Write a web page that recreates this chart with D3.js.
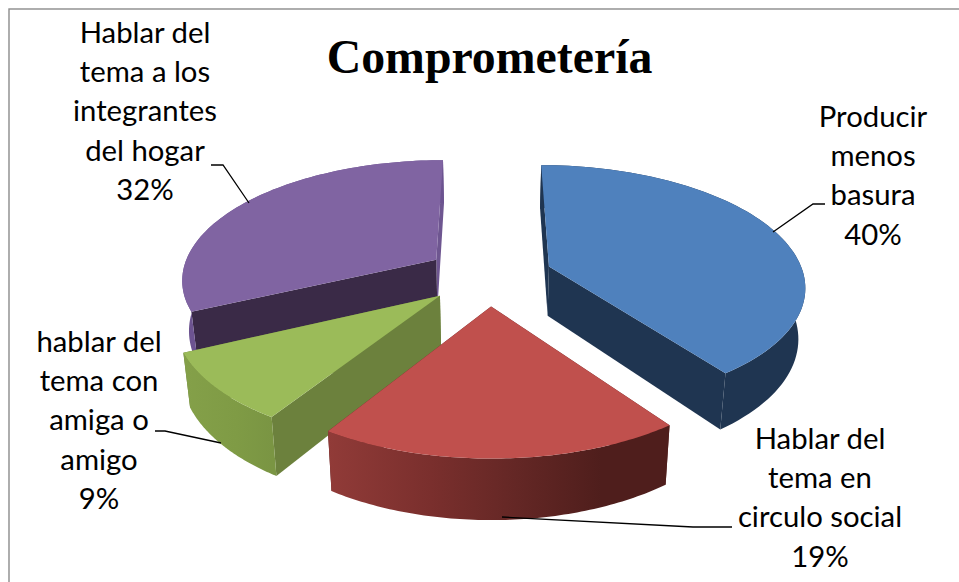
<!DOCTYPE html>
<html lang="es">
<head>
<meta charset="utf-8">
<script src="https://cdnjs.cloudflare.com/ajax/libs/d3/7.8.5/d3.min.js"></script>
<style>
html,body{margin:0;padding:0;background:#fff;overflow:hidden}
svg{display:block}
</style>
</head>
<body>
<svg id="chart" width="959" height="582"></svg>
<script>
// ---- data ----
const chartTitle = "Comprometería";
const categories = ["Producir menos basura", "Hablar del tema en circulo social", "hablar del tema con amiga o amigo", "Hablar del tema a los integrantes del hogar"];
const values = [40, 19, 9, 32];
const labelLines = [
  ["Producir", "menos", "basura", "40%"],
  ["Hablar del", "tema en", "circulo social", "19%"],
  ["hablar del", "tema con", "amiga o", "amigo", "9%"],
  ["Hablar del", "tema a los", "integrantes", "del hogar", "32%"]
];

// ---- styles ----
const topColors = ["#4f81bd", "#c0504d", "#9bbb59", "#8064a2"];
const startWall = ["#1f3551", "#5a2322", "#6c813d", "#3a2a47"];
const endWall   = ["#1f3551", "#5a2322", "#6c813d", "#6e5690"];
const outerStops = [
  [["0","#1f3551"],["0.75","#1f3551"],["1","#1f3551"]],
  [["0","#913b38"],["0.3","#7a2f2d"],["0.55","#642725"],["0.8","#4f1e1c"],["1","#4f1e1c"]],
  [["0","#84a049"],["0.6","#7f9b45"],["1","#7a9543"]],
  [["0","#6c5390"],["1","#6c5390"]]
];
const drawOrder = [3, 0, 2, 1];

// ---- layout ----
const W = 959, H = 582;
const cx = 489, cy = 275.5, rx = 255, ry = 119, persp = 0.15, explode = 0.25, depth = 50, converge = 0.022;
const labelX = [873, 820, 99, 145];
const firstBaseline = [127, 449, 352, 43];
const lineStep = 39.2;
const leaders = [
  [[825,204],[813,204],[773,232]],
  [[732,527],[693,527],[502,517]],
  [[155,431],[165,431],[221,443]],
  [[211,165],[223,165],[249,203]]
];

const xS = d3.scaleLinear().domain([-1, 1]).range([cx - rx, cx + rx]);
const yS = d3.scaleLinear().domain([-1, 1]).range([cy + ry, cy - ry]);

// perspective projection of a disc point (X right, Y away), z levels down
function project(X, Y, z) {
  const s = 1 / (1 + persp * Y);
  return [cx + (xS(X) - cx) * s * (1 - converge * z), cy + (yS(Y) - cy) * s + z * depth * s];
}

const svg = d3.select("#chart");
const defs = svg.append("defs");
const line = d3.line();

svg.append("rect").attr("width", W).attr("height", H).attr("fill", "#fff");
svg.append("rect").attr("x", 9).attr("y", 9).attr("width", W + 20).attr("height", H + 20)
  .attr("fill", "none").attr("stroke", "#8c8c8c").attr("stroke-width", 1.4);

const arcs = d3.pie().sort(null).value(d => d)(values);

drawOrder.forEach(i => {
  const a = arcs[i];
  const mid = (a.startAngle + a.endAngle) / 2;
  const ox = explode * Math.sin(mid), oy = explode * Math.cos(mid);
  const P = (r, ang, z) => project(ox + r * Math.sin(ang), oy + r * Math.cos(ang), z);
  const angs = d3.range(0, 81).map(t => a.startAngle + (a.endAngle - a.startAngle) * t / 80);
  const g = svg.append("g");

  const outerTop = angs.map(t => P(1, t, 0));
  const outerBot = angs.map(t => P(1, t, 1));
  const xs = outerTop.map(p => p[0]);
  const gid = "wall" + i;
  const grad = defs.append("linearGradient").attr("id", gid).attr("gradientUnits", "userSpaceOnUse")
    .attr("x1", d3.min(xs)).attr("x2", d3.max(xs)).attr("y1", 0).attr("y2", 0);
  outerStops[i].forEach(s => grad.append("stop").attr("offset", s[0]).attr("stop-color", s[1]));

  g.append("path").attr("d", line([P(0,0,0), P(1,a.endAngle,0), P(1,a.endAngle,1), P(0,0,1)]) + "Z").attr("fill", endWall[i]);
  g.append("path").attr("d", line([P(0,0,0), P(1,a.startAngle,0), P(1,a.startAngle,1), P(0,0,1)]) + "Z").attr("fill", startWall[i]);
  g.append("path").attr("d", line(outerTop.concat(outerBot.slice().reverse())) + "Z").attr("fill", `url(#${gid})`);
  g.append("path").attr("d", line([P(0,0,0)].concat(outerTop)) + "Z").attr("fill", topColors[i]);
});

leaders.forEach(pts => {
  svg.append("path").attr("d", line(pts)).attr("fill", "none").attr("stroke", "#000").attr("stroke-width", 1.3);
});

labelLines.forEach((lines, i) => {
  const t = svg.append("text").attr("font-family", "Lato, 'Open Sans', sans-serif").attr("font-size", 29.3)
    .attr("text-anchor", "middle").attr("fill", "#000");
  lines.forEach((l, j) => t.append("tspan").attr("x", labelX[i]).attr("y", firstBaseline[i] + j * lineStep).text(l));
});

svg.append("text").attr("x", 489.5).attr("y", 73).attr("text-anchor", "middle")
  .attr("font-family", "'Liberation Serif', serif").attr("font-weight", "bold").attr("font-size", 47.8)
  .attr("fill", "#000").text(chartTitle);
</script>
</body>
</html>
